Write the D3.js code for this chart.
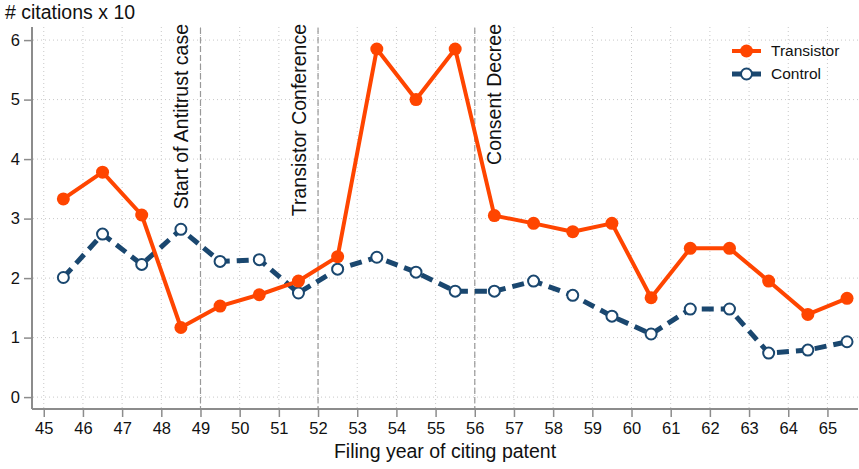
<!DOCTYPE html>
<html>
<head>
<meta charset="utf-8">
<script src="https://cdn.jsdelivr.net/npm/d3@7"></script>
<style>
  body { margin: 0; background: #fff; }
  text { font-family: "Liberation Sans", Arial, sans-serif; fill: #111; }
</style>
</head>
<body>
<div id="chart"></div>
<script>
var years = [45.5, 46.5, 47.5, 48.5, 49.5, 50.5, 51.5, 52.5, 53.5, 54.5, 55.5,
             56.5, 57.5, 58.5, 59.5, 60.5, 61.5, 62.5, 63.5, 64.5, 65.5];
var transistor = [3.33, 3.78, 3.06, 1.17, 1.53, 1.72, 1.95, 2.36, 5.85, 5.0, 5.85,
                  3.05, 2.92, 2.78, 2.92, 1.67, 2.5, 2.5, 1.95, 1.39, 1.66];
var control = [2.01, 2.74, 2.23, 2.82, 2.28, 2.31, 1.75, 2.15, 2.35, 2.1, 1.78,
               1.78, 1.95, 1.71, 1.36, 1.06, 1.48, 1.48, 0.74, 0.79, 0.93];
var xTicks = d3.range(45, 66);
var yTicks = [0, 1, 2, 3, 4, 5, 6];
var events = [
    {year: 49, label: "Start of Antitrust case", side: "left"},
    {year: 52, label: "Transistor Conference", side: "left"},
    {year: 56, label: "Consent Decree", side: "right"}
];
var seriesNames = ["Transistor", "Control"];

var width = 859, height = 469;
var orange = "#ff4500", navy = "#1a476f", axisGray = "#8c8c8c";

var x = d3.scaleLinear().domain([44.7, 65.78]).range([32, 858]);
var y = d3.scaleLinear().domain([-0.2, 6.22]).range([409, 27]);

var svg = d3.select("#chart").append("svg")
    .attr("width", width)
    .attr("height", height);

// grid
svg.append("g").selectAll("line")
    .data(yTicks)
    .enter().append("line")
    .attr("x1", 33).attr("x2", 858)
    .attr("y1", function(d) { return y(d); })
    .attr("y2", function(d) { return y(d); })
    .style("stroke", "#c8c8c8")
    .style("stroke-width", 1)
    .style("stroke-dasharray", "1,3");

svg.append("g").selectAll("line")
    .data(xTicks)
    .enter().append("line")
    .attr("x1", function(d) { return x(d); })
    .attr("x2", function(d) { return x(d); })
    .attr("y1", 27).attr("y2", 408)
    .style("stroke", "#c8c8c8")
    .style("stroke-width", 1)
    .style("stroke-dasharray", "1,3");

// axes
var yAxis = d3.axisLeft(y).tickValues(yTicks).tickFormat(d3.format("d")).tickSize(8).tickPadding(4);
var xAxis = d3.axisBottom(x).tickValues(xTicks).tickFormat(d3.format("d")).tickSize(8).tickPadding(5);

var gy = svg.append("g")
    .attr("transform", "translate(32,0)")
    .call(yAxis);
var gx = svg.append("g")
    .attr("transform", "translate(0,409)")
    .call(xAxis);

[gx, gy].forEach(function(g) {
    g.select(".domain").style("stroke", axisGray).style("stroke-width", 2);
    g.selectAll(".tick line").style("stroke", axisGray).style("stroke-width", 1.5);
    g.selectAll(".tick text")
        .style("font-family", "Liberation Sans, Arial, sans-serif")
        .style("font-size", "16.5px")
        .style("fill", "#111");
});
gy.select(".domain").attr("d", "M0,27V409");
gx.select(".domain").attr("d", "M32,0H858");

// axis titles
svg.append("text")
    .attr("x", 5).attr("y", 19)
    .style("font-size", "19.5px")
    .text("# citations x 10");

svg.append("text")
    .attr("x", 445).attr("y", 458)
    .style("text-anchor", "middle")
    .style("font-size", "19.5px")
    .text("Filing year of citing patent");

// event lines
svg.append("g").selectAll("line")
    .data(events)
    .enter().append("line")
    .attr("x1", function(d) { return x(d.year); })
    .attr("x2", function(d) { return x(d.year); })
    .attr("y1", 28).attr("y2", 408)
    .style("stroke", "#999")
    .style("stroke-width", 1.2)
    .style("stroke-dasharray", "6,3");

svg.append("g").selectAll("text")
    .data(events)
    .enter().append("text")
    .attr("transform", function(d) {
        var tx = d.side === "left" ? x(d.year) - 12 : x(d.year) + 26;
        return "translate(" + tx + ",24) rotate(-90)";
    })
    .style("text-anchor", "end")
    .style("font-size", "19.5px")
    .text(function(d) { return d.label; });

// series
var line = d3.line()
    .x(function(d) { return x(d[0]); })
    .y(function(d) { return y(d[1]); });

var tData = years.map(function(yr, i) { return [yr, transistor[i]]; });
var cData = years.map(function(yr, i) { return [yr, control[i]]; });

svg.append("path")
    .datum(cData)
    .attr("d", line)
    .style("fill", "none")
    .style("stroke", navy)
    .style("stroke-width", 5)
    .style("stroke-dasharray", "12,7");

svg.append("path")
    .datum(tData)
    .attr("d", line)
    .style("fill", "none")
    .style("stroke", orange)
    .style("stroke-width", 4)
    .style("stroke-linejoin", "round");

svg.selectAll(".cdot")
    .data(cData)
    .enter().append("circle")
    .attr("class", "cdot")
    .attr("r", 5.5)
    .attr("cx", function(d) { return x(d[0]); })
    .attr("cy", function(d) { return y(d[1]); })
    .style("fill", "#fff")
    .style("stroke", navy)
    .style("stroke-width", 2);

svg.selectAll(".tdot")
    .data(tData)
    .enter().append("circle")
    .attr("class", "tdot")
    .attr("r", 6.5)
    .attr("cx", function(d) { return x(d[0]); })
    .attr("cy", function(d) { return y(d[1]); })
    .style("fill", orange);

// legend
var legend = svg.selectAll(".legend")
    .data(seriesNames)
    .enter().append("g")
    .attr("class", "legend")
    .attr("transform", function(d, i) { return "translate(0," + (51 + i * 23) + ")"; });

legend.append("line")
    .attr("x1", 732).attr("x2", 761)
    .attr("y1", 0).attr("y2", 0)
    .style("stroke", function(d, i) { return i === 0 ? orange : navy; })
    .style("stroke-width", function(d, i) { return i === 0 ? 4 : 5; });

legend.append("circle")
    .attr("cx", 746.5).attr("cy", 0)
    .attr("r", function(d, i) { return i === 0 ? 6.5 : 5.5; })
    .style("fill", function(d, i) { return i === 0 ? orange : "#fff"; })
    .style("stroke", function(d, i) { return i === 0 ? "none" : navy; })
    .style("stroke-width", 2);

legend.append("text")
    .attr("x", 771).attr("y", 0)
    .attr("dy", "0.35em")
    .style("font-size", "15.5px")
    .text(function(d) { return d; });
</script>
</body>
</html>
